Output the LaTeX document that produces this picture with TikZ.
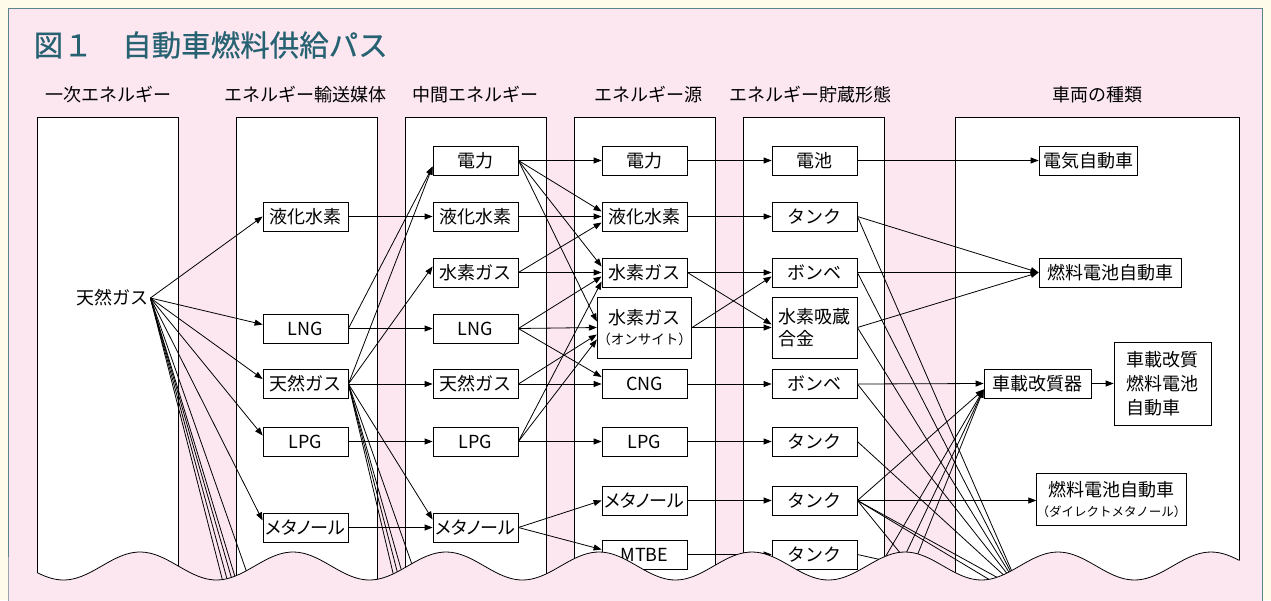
\documentclass[tikz,border=0pt]{standalone}
\usepackage{fontspec}
\setmainfont{Noto Sans CJK JP}
\newfontfamily\ttlfont[FakeBold=0.6]{Noto Sans CJK JP}
\newfontfamily\pfont[RawFeature=+palt]{Noto Sans CJK JP}
\usetikzlibrary{arrows.meta}
\definecolor{cream}{RGB}{255,251,234}
\definecolor{panel}{RGB}{252,231,240}
\definecolor{frame}{RGB}{92,130,140}
\definecolor{ttl}{RGB}{38,98,114}
\newcommand\fsz[1]{\fontsize{#1}{#1}\selectfont}

\begin{document}
\begin{tikzpicture}[x=1pt,y=-1pt,line width=0.8pt,
  col/.style={draw,fill=white},
  bx/.style={draw,fill=white,minimum width=85pt,minimum height=29pt,inner sep=0pt,font=\fsz{18}},
  hd/.style={font=\fsz{18}},
  ar/.style={-{Triangle[length=8pt,width=6pt]}}]
\useasboundingbox (0,0) rectangle (1271,600);
\fill[cream] (0,0) rectangle (1271,600);
\fill[panel] (8,8) rectangle (1262,600);
\draw[frame,line width=1pt] (8,610) -- (8,8) -- (1262,8) -- (1262,610);

\node[anchor=west,text=ttl,font=\ttlfont\fsz{29.5}] (ttl) at (30,45) {図１　自動車燃料供給パス};
\node[hd] (h1) at (108,95) {一次エネルギー};
\node[hd] (h2) at (305,95) {エネルギー輸送媒体};
\node[hd] (h3) at (475,95) {中間エネルギー};
\node[hd] (h4) at (648,95) {エネルギー源};
\node[hd] (h5) at (810,95) {エネルギー貯蔵形態};
\node[hd] (h6) at (1097,95) {車両の種類};

\draw[col] (37,117) rectangle (178,620);
\draw[col] (236,117) rectangle (377,620);
\draw[col] (405,117) rectangle (546,620);
\draw[col] (574,117) rectangle (715,620);
\draw[col] (743,117) rectangle (884,620);
\draw[col] (955,117) rectangle (1239,620);

\node[font=\fsz{18},inner sep=2pt] (c1gas) at (112,298) {天然ガス};

\node[bx] (c2lh2) at (305.5,216.5) {液化水素};
\node[bx] (c2lng) at (305.5,328.5) {LNG};
\node[bx] (c2gas) at (305.5,384) {天然ガス};
\node[bx] (c2lpg) at (305.5,441.5) {LPG};
\node[bx] (c2meoh) at (305.5,527.5) {\pfont メタノール};

\node[bx] (c3elec) at (475.5,160.5) {電力};
\node[bx] (c3lh2) at (475.5,216.5) {液化水素};
\node[bx] (c3h2) at (475.5,272.5) {水素ガス};
\node[bx] (c3lng) at (475.5,328.5) {LNG};
\node[bx] (c3gas) at (475.5,384) {天然ガス};
\node[bx] (c3lpg) at (475.5,441.5) {LPG};
\node[bx] (c3meoh) at (475.5,527.5) {\pfont メタノール};

\node[bx] (c4elec) at (644.5,160.5) {電力};
\node[bx] (c4lh2) at (644.5,216.5) {液化水素};
\node[bx] (c4h2) at (644.5,272.5) {水素ガス};
\node[bx,minimum height=61pt,align=center] (c4site) at (644.5,327.5) {水素ガス\\[2pt]{\fsz{13.5}（オンサイト）}};
\node[bx] (c4cng) at (644.5,384) {CNG};
\node[bx] (c4lpg) at (644.5,441.5) {LPG};
\node[bx] (c4meoh) at (644.5,500.5) {\pfont メタノール};
\node[bx] (c4mtbe) at (644.5,554.5) {MTBE};

\node[bx] (c5batt) at (814.5,160.5) {電池};
\node[bx] (c5tank1) at (814.5,216.5) {タンク};
\node[bx] (c5bombe1) at (814.5,272.5) {ボンベ};
\node[bx,minimum height=61pt,align=left] (c5alloy) at (814.5,327.5) {水素吸蔵\\[4pt]合金};
\node[bx] (c5bombe2) at (814.5,384) {ボンベ};
\node[bx] (c5tank2) at (814.5,441.5) {タンク};
\node[bx] (c5tank3) at (814.5,500.5) {タンク};
\node[bx] (c5tank4) at (814.5,554.5) {タンク};

\node[bx,minimum width=98pt] (v6ev) at (1088,160.5) {電気自動車};
\node[bx,minimum width=142pt] (v6fcv) at (1110,272.5) {燃料電池自動車};
\node[bx,minimum width=107pt] (v6ref) at (1037.5,383.5) {車載改質器};
\node[bx,minimum width=97pt,minimum height=83pt,align=left] (v6rfcv) at (1162.5,383.5) {車載改質\\[6pt]燃料電池\\[6pt]自動車};
\node[bx,minimum width=143pt,minimum height=52pt,align=center] (v6dmfc) at (1111.5,499) {燃料電池自動車\\[2pt]{\fsz{12.5}（ダイレクトメタノール）}};

\coordinate (f1a) at (225,590);
\coordinate (f1b) at (230,590);
\coordinate (f1c) at (235,590);
\coordinate (f1d) at (239,590);
\coordinate (f1e) at (253,590);
\coordinate (f2a) at (397,590);
\coordinate (f2b) at (402,590);
\coordinate (f2c) at (407,590);
\coordinate (f2d) at (421,590);
\coordinate (s5a) at (1020,590);
\coordinate (s5b) at (995,583);
\coordinate (s5c) at (910,565);
\coordinate (s5d) at (900,564);
\coordinate (g1) at (880,566);
\coordinate (g2) at (900,566);
\coordinate (g3) at (913,566);

\draw[ar] (c1gas.east) -- (c2lh2.west);
\draw[ar] (c1gas.east) -- ([yshift=4pt]c2lng.west);
\draw[ar] (c1gas.east) -- ([yshift=5pt]c2gas.west);
\draw[ar] (c1gas.east) -- ([yshift=6pt]c2lpg.west);
\draw[ar] (c1gas.east) -- ([yshift=7pt]c2meoh.west);
\draw (c1gas.east) -- (f1a);
\draw (c1gas.east) -- (f1b);
\draw (c1gas.east) -- (f1c);
\draw (c1gas.east) -- (f1d);
\draw (c1gas.east) -- (f1e);

\draw[ar] (c2lh2.east) -- (c3lh2.west);
\draw[ar] (c2lng.east) -- (c3lng.west);
\draw[ar] (c2gas.east) -- (c3gas.west);
\draw[ar] (c2lpg.east) -- (c3lpg.west);
\draw[ar] (c2meoh.east) -- (c3meoh.west);
\draw[ar] (c2lng.east) -- ([yshift=-6pt]c3elec.west);
\draw[ar] (c2gas.east) -- ([yshift=-6pt]c3elec.west);
\draw[ar] (c2gas.east) -- ([yshift=6pt]c3h2.west);
\draw[ar] (c2gas.east) -- ([yshift=8pt]c3meoh.west);
\draw (c2gas.east) -- (f2a);
\draw (c2gas.east) -- (f2b);
\draw (c2gas.east) -- (f2c);
\draw (c2gas.east) -- (f2d);

\draw[ar] (c3elec.east) -- (c4elec.west);
\draw[ar] (c3elec.east) -- ([yshift=5pt]c4lh2.west);
\draw[ar] (c3elec.east) -- ([yshift=6pt]c4h2.west);
\draw[ar] (c3elec.east) -- ([yshift=6pt]c4site.west);
\draw[ar] (c3lh2.east) -- (c4lh2.west);
\draw[ar] (c3h2.east) -- (c4h2.west);
\draw[ar] (c3h2.east) -- ([yshift=-6pt]c4lh2.west);
\draw[ar] (c3lng.east) -- ([yshift=-4pt]c4h2.west);
\draw[ar] (c3lng.east) -- (c4site.west);
\draw[ar] (c3lng.east) -- ([yshift=7pt]c4cng.west);
\draw[ar] (c3gas.east) -- (c4cng.west);
\draw[ar] (c3gas.east) -- ([yshift=-7pt]c4site.west);
\draw[ar] (c3lpg.east) -- (c4lpg.west);
\draw[ar] (c3lpg.east) -- ([yshift=-9pt]c4h2.west);
\draw[ar] (c3lpg.east) -- ([yshift=-12pt]c4site.west);
\draw[ar] (c3meoh.east) -- (c4meoh.west);
\draw[ar] (c3meoh.east) -- ([yshift=5pt]c4mtbe.west);

\draw[ar] (c4elec.east) -- (c5batt.west);
\draw[ar] (c4lh2.east) -- (c5tank1.west);
\draw[ar] (c4h2.east) -- (c5bombe1.west);
\draw[ar] (c4h2.east) -- ([yshift=3pt]c5alloy.west);
\draw[ar] (c4site.east) -- (c5alloy.west);
\draw[ar] (c4site.east) -- ([yshift=-4pt]c5bombe1.west);
\draw[ar] (c4cng.east) -- (c5bombe2.west);
\draw[ar] (c4lpg.east) -- (c5tank2.west);
\draw[ar] (c4meoh.east) -- (c5tank3.west);
\draw[ar] (c4mtbe.east) -- (c5tank4.west);

\draw[ar] (c5batt.east) -- (v6ev.west);
\draw[ar] (c5tank1.east) -- (v6fcv.west);
\draw[ar] (c5bombe1.east) -- (v6fcv.west);
\draw[ar] (c5alloy.east) -- (v6fcv.west);
\draw[ar] (c5bombe2.east) -- (v6ref.west);
\draw[ar] (c5tank3.east) -- (c5tank3.east -| v6dmfc.west);
\draw[ar] (c5tank3.east) -- ([yshift=-6pt]v6ref.west);
\draw[ar] (g1) -- ([yshift=-6pt]v6ref.west);
\draw[ar] (g2) -- ([yshift=-6pt]v6ref.west);
\draw[ar] (g3) -- ([yshift=-6pt]v6ref.west);
\draw[ar] (v6ref.east) -- (v6rfcv.west);
\draw (c5tank1.east) -- (s5a);
\draw (c5bombe1.east) -- (s5a);
\draw (c5alloy.east) -- (s5a);
\draw (c5bombe2.east) -- (s5a);
\draw (c5tank2.east) -- (s5a);
\draw (c5tank3.east) -- (s5a);
\draw (c5tank3.east) -- (s5b);
\draw (c5tank3.east) -- (s5c);
\draw (c5tank4.east) -- (s5d);

\fill[panel] (8.5,615) -- plot[domain=8.5:1261.5,samples=300,smooth] (\x,{566-14*cos((\x-140)*2.35294)}) -- (1261.5,615) -- cycle;
\draw plot[domain=37:1239,samples=300,smooth] (\x,{566-14*cos((\x-140)*2.35294)});
\end{tikzpicture}
\end{document}
